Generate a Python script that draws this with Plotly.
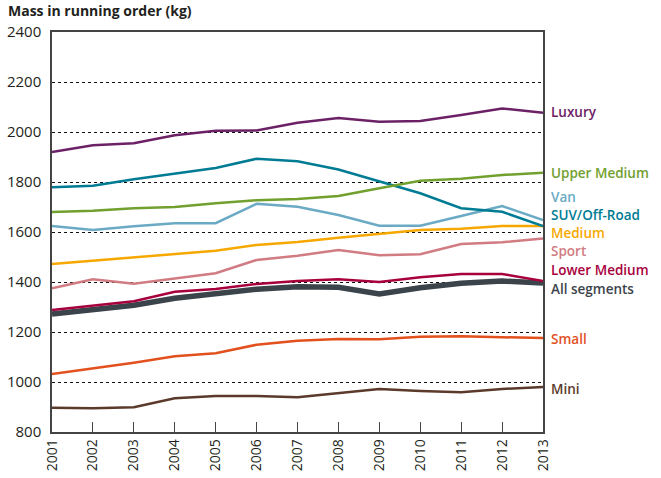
import plotly.graph_objects as go

years = [2001, 2002, 2003, 2004, 2005, 2006, 2007, 2008, 2009, 2010, 2011, 2012, 2013]

luxury = [1920, 1947, 1955, 1987, 2005, 2006, 2037, 2056, 2041, 2044, 2068, 2094, 2077]
upper_medium = [1680, 1685, 1695, 1700, 1715, 1727, 1732, 1744, 1775, 1805, 1813, 1828, 1837]
van = [1624, 1608, 1623, 1635, 1635, 1713, 1701, 1668, 1625, 1625, 1664, 1704, 1648]
suv = [1779, 1785, 1811, 1835, 1856, 1893, 1883, 1850, 1801, 1755, 1695, 1681, 1624]
medium = [1472, 1485, 1499, 1511, 1525, 1548, 1560, 1577, 1593, 1608, 1613, 1624, 1624]
sport = [1375, 1411, 1393, 1413, 1435, 1488, 1505, 1528, 1507, 1511, 1552, 1559, 1574]
lower_medium = [1288, 1305, 1323, 1361, 1372, 1392, 1404, 1411, 1400, 1419, 1432, 1432, 1404]
all_segments = [1272, 1288, 1307, 1335, 1351, 1371, 1381, 1379, 1352, 1377, 1395, 1404, 1396]
small = [1032, 1053, 1077, 1103, 1115, 1149, 1165, 1172, 1171, 1181, 1183, 1179, 1176]
mini = [897, 895, 899, 935, 944, 944, 939, 955, 972, 964, 959, 972, 980]

y_ticks = [800, 1000, 1200, 1400, 1600, 1800, 2000, 2200, 2400]

colors = {
    "All segments": "#3b434b",
    "Mini": "#5b3a2b",
    "Small": "#e2501e",
    "Lower Medium": "#a8003d",
    "Sport": "#d17b82",
    "Medium": "#f7a800",
    "Van": "#6aaac4",
    "SUV/Off-Road": "#007b94",
    "Upper Medium": "#71a02f",
    "Luxury": "#6c2166",
}

series = [
    ("All segments", all_segments, 5.5),
    ("Mini", mini, 2.5),
    ("Small", small, 2.5),
    ("Lower Medium", lower_medium, 2.5),
    ("Sport", sport, 2.5),
    ("Medium", medium, 2.5),
    ("Van", van, 2.5),
    ("SUV/Off-Road", suv, 2.5),
    ("Upper Medium", upper_medium, 2.5),
    ("Luxury", luxury, 2.5),
]

# vertical placement of the right-hand labels (axis units)
label_y = {
    "Luxury": 2080,
    "Upper Medium": 1836,
    "Van": 1740,
    "SUV/Off-Road": 1668,
    "Medium": 1596,
    "Sport": 1524,
    "Lower Medium": 1448,
    "All segments": 1372,
    "Small": 1172,
    "Mini": 972,
}

fig = go.Figure()
annotations = []
for name, vals, width in series:
    fig.add_trace(go.Scatter(
        x=years, y=vals, mode="lines", name=name,
        line=dict(color=colors[name], width=width),
        showlegend=False, hoverinfo="skip",
    ))
    annotations.append(dict(
        x=1.0, xref="paper", y=label_y[name], yref="y",
        text=name, showarrow=False, align="left",
        xanchor="left", yanchor="middle", xshift=6,
        font=dict(family="Open Sans", size=13.5, color=colors[name], weight=600),
    ))

annotations.append(dict(
    x=0, xref="paper", y=1, yref="paper", yshift=10,
    text="<b>Mass in running order (kg)</b>", showarrow=False,
    xanchor="left", yanchor="bottom", xshift=-46,
    font=dict(family="Open Sans", size=14, color="#231f20"),
))

fig.update_layout(
    width=661, height=478,
    margin=dict(l=52, r=118, t=32, b=46),
    paper_bgcolor="white", plot_bgcolor="white",
    annotations=annotations,
    font=dict(family="Open Sans", color="#231f20"),
)
fig.update_xaxes(
    range=[2001, 2013], tickmode="array", tickvals=years,
    ticktext=[str(y) for y in years], tickangle=-90,
    ticks="inside", ticklen=10, tickcolor="#444444", tickwidth=1,
    showline=True, linecolor="#444444", linewidth=1.5, mirror=True,
    showgrid=False, zeroline=False, automargin=False,
    tickfont=dict(family="Open Sans", size=14, color="#231f20"),
)
fig.update_yaxes(
    range=[800, 2400], tickmode="array", tickvals=y_ticks,
    ticks="", showline=True, linecolor="#444444", linewidth=1.5, mirror=True,
    showgrid=True, gridcolor="#111111", gridwidth=1, griddash="dot",
    zeroline=False, ticklabelstandoff=6, automargin=False,
    tickfont=dict(family="Open Sans", size=15, color="#231f20"),
)

fig.write_html(
    "out.html",
    config={"displayModeBar": False},
    post_script="document.body.style.margin='0px';",
)
